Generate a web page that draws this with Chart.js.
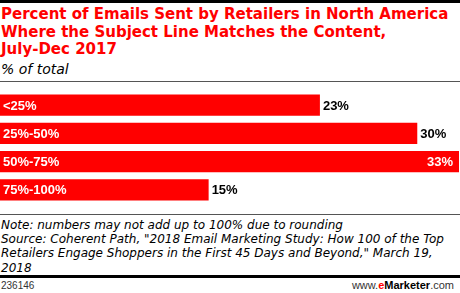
<!DOCTYPE html>
<html><head><meta charset="utf-8">
<script src="https://cdn.jsdelivr.net/npm/chart.js@4.4.0/dist/chart.umd.min.js"></script>
<style>
html,body{margin:0;padding:0;background:#fff;width:460px;height:293px;overflow:hidden;font-family:"Liberation Sans",Arial,sans-serif;}
#topbar{position:absolute;left:0;top:0;width:460px;height:3px;background:#000;}
#title{position:absolute;left:1px;top:6px;width:470px;color:#f00;font-weight:bold;font-size:15px;line-height:17.5px;font-family:"DejaVu Sans",sans-serif;white-space:nowrap;}
#sub{position:absolute;left:1px;top:61px;font-style:italic;font-size:14px;color:#000;font-family:"DejaVu Sans",sans-serif;}
#line1{position:absolute;left:0;top:81px;width:460px;height:1px;background:#555;}
#wrap{position:absolute;left:0;top:91px;width:460px;height:113px;}
#line2{position:absolute;left:0;top:214px;width:460px;height:1px;background:#555;}
#note{position:absolute;left:1px;top:218px;font-style:italic;font-size:12px;line-height:14.2px;color:#000;width:470px;font-family:"DejaVu Sans",sans-serif;white-space:nowrap;}
#line3{position:absolute;left:0;top:275px;width:460px;height:3px;background:#000;}
#id{position:absolute;left:1px;top:280px;font-size:10px;color:#333;}
#brand{position:absolute;right:6px;top:279px;font-size:11px;color:#333;}
#brand b{color:#000}
#brand .e{color:#f00;font-weight:bold}
</style></head>
<body>
<div id="topbar"></div>
<div id="title">Percent of Emails Sent by Retailers in North America<br>Where the Subject Line Matches the Content,<br>July-Dec 2017</div>
<div id="sub">% of total</div>
<div id="line1"></div>
<div id="wrap"><canvas id="c"></canvas></div>
<div id="line2"></div>
<div id="note">Note: numbers may not add up to 100% due to rounding<br>Source: Coherent Path, "2018 Email Marketing Study: How 100 of the Top<br>Retailers Engage Shoppers in the First 45 Days and Beyond," March 19,<br>2018</div>
<div id="line3"></div>
<div id="id">236146</div>
<div id="brand">www.<span class="e">e</span><b>Marketer</b>.com</div>
<script>
const categories = ["<25%", "25%-50%", "50%-75%", "75%-100%"];
const values = [23, 30, 33, 15];
const valueLabels = ["23%", "30%", "33%", "15%"];

const labelPlugin = {
  id: 'labels',
  afterDatasetsDraw(chart) {
    const ctx = chart.ctx;
    const meta = chart.getDatasetMeta(0);
    ctx.save();
    ctx.textBaseline = 'middle';
    meta.data.forEach((bar, i) => {
      ctx.font = 'bold 13px "Liberation Sans", Arial, sans-serif';
      ctx.fillStyle = '#fff';
      ctx.textAlign = 'left';
      ctx.fillText(categories[i], 3, bar.y + 1);
      const w = ctx.measureText(valueLabels[i]).width;
      if (bar.x + 4 + w > chart.chartArea.right) {
        ctx.textAlign = 'right';
        ctx.fillStyle = '#fff';
        ctx.fillText(valueLabels[i], bar.x - 6, bar.y + 1);
      } else {
        ctx.textAlign = 'left';
        ctx.fillStyle = '#000';
        ctx.fillText(valueLabels[i], bar.x + 3, bar.y + 1);
      }
    });
    ctx.restore();
  }
};

new Chart(document.getElementById('c'), {
  type: 'bar',
  data: {
    labels: categories,
    datasets: [{
      data: values,
      backgroundColor: '#ff0000',
      borderWidth: 0,
      barPercentage: 0.76,
      categoryPercentage: 1
    }]
  },
  options: {
    indexAxis: 'y',
    responsive: true,
    maintainAspectRatio: false,
    animation: false,
    layout: { padding: { left: 0, right: 1, top: 0, bottom: 0 } },
    plugins: { legend: { display: false }, tooltip: { enabled: false } },
    scales: {
      x: { display: false, min: 0, max: 33 },
      y: { display: false }
    }
  },
  plugins: [labelPlugin]
});
</script>
</body></html>
